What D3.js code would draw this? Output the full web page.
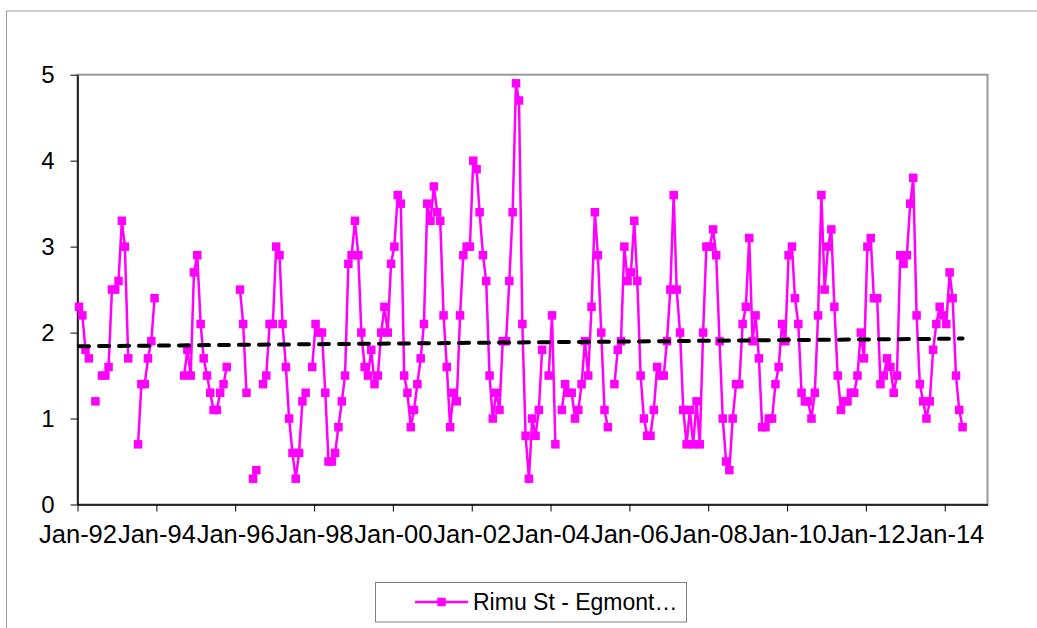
<!DOCTYPE html>
<html>
<head>
<meta charset="utf-8">
<script src="https://cdn.jsdelivr.net/npm/d3@7"></script>
<style>
body { margin: 0; background: #fff; }
svg { display: block; }
</style>
</head>
<body>
<div id="chart"></div>
<script>
var startYear = 1992;

// one reading per month from Jan-92, null where there was no sample
var values = [
    2.3, 2.2, 1.8, 1.7, null, 1.2, null, 1.5, 1.5, 1.6, 2.5, 2.5,
    2.6, 3.3, 3.0, 1.7, null, null, 0.7, 1.4, 1.4, 1.7, 1.9, 2.4,
    null, null, null, null, null, null, null, null, 1.5, 1.8, 1.5, 2.7,
    2.9, 2.1, 1.7, 1.5, 1.3, 1.1, 1.1, 1.3, 1.4, 1.6, null, null,
    null, 2.5, 2.1, 1.3, null, 0.3, 0.4, null, 1.4, 1.5, 2.1, 2.1,
    3.0, 2.9, 2.1, 1.6, 1.0, 0.6, 0.3, 0.6, 1.2, 1.3, null, 1.6,
    2.1, 2.0, 2.0, 1.3, 0.5, 0.5, 0.6, 0.9, 1.2, 1.5, 2.8, 2.9,
    3.3, 2.9, 2.0, 1.6, 1.5, 1.8, 1.4, 1.5, 2.0, 2.3, 2.0, 2.8,
    3.0, 3.6, 3.5, 1.5, 1.3, 0.9, 1.1, 1.4, 1.7, 2.1, 3.5, 3.3,
    3.7, 3.4, 3.3, 2.2, 1.6, 0.9, 1.3, 1.2, 2.2, 2.9, 3.0, 3.0,
    4.0, 3.9, 3.4, 2.9, 2.6, 1.5, 1.0, 1.3, 1.1, 1.9, 1.9, 2.6,
    3.4, 4.9, 4.7, 2.1, 0.8, 0.3, 1.0, 0.8, 1.1, 1.8, null, 1.5,
    2.2, 0.7, null, 1.1, 1.4, 1.3, 1.3, 1.0, 1.1, 1.4, 1.9, 1.5,
    2.3, 3.4, 2.9, 2.0, 1.1, 0.9, null, 1.4, 1.8, 1.9, 3.0, 2.6,
    2.7, 3.3, 2.6, 1.5, 1.0, 0.8, 0.8, 1.1, 1.6, 1.5, 1.5, 1.9,
    2.5, 3.6, 2.5, 2.0, 1.1, 0.7, 1.1, 0.7, 1.2, 0.7, 2.0, 3.0,
    3.0, 3.2, 2.9, 1.9, 1.0, 0.5, 0.4, 1.0, 1.4, 1.4, 2.1, 2.3,
    3.1, 1.9, 2.2, 1.7, 0.9, 0.9, 1.0, 1.0, 1.4, 1.6, 2.1, 1.9,
    2.9, 3.0, 2.4, 2.1, 1.3, 1.2, 1.2, 1.0, 1.3, 2.2, 3.6, 2.5,
    3.0, 3.2, 2.3, 1.5, 1.1, 1.2, 1.2, 1.3, 1.3, 1.5, 2.0, 1.7,
    3.0, 3.1, 2.4, 2.4, 1.4, 1.5, 1.7, 1.6, 1.3, 1.5, 2.9, 2.8,
    2.9, 3.5, 3.8, 2.2, 1.4, 1.2, 1.0, 1.2, 1.8, 2.1, 2.3, 2.2,
    2.1, 2.7, 2.4, 1.5, 1.1, 0.9
];

var seriesName = "Rimu St - Egmont…";
var yTicks = [0, 1, 2, 3, 4, 5];
var xTickLabels = ["Jan-92", "Jan-94", "Jan-96", "Jan-98", "Jan-00", "Jan-02",
                   "Jan-04", "Jan-06", "Jan-08", "Jan-10", "Jan-12", "Jan-14"];
var axisStart = "Jan-92",
    axisEnd = "Feb-15";

var width = 1037,
    height = 628,
    plot = {left: 77.5, right: 987.5, top: 74.7, bottom: 504.5};

var parse = d3.timeParse("%b-%y");

var data = values.map((v, i) => ({date: new Date(startYear, i, 15), value: v}));
var points = data.filter(d => d.value != null);

var x = d3.scaleTime()
    .domain([parse(axisStart), parse(axisEnd)])
    .range([plot.left, plot.right]);

var y = d3.scaleLinear()
    .domain([0, 5])
    .range([plot.bottom, plot.top]);

var svg = d3.select("#chart")
    .append("svg")
        .attr("width", width)
        .attr("height", height)
        .attr("font-family", "Arial, 'Liberation Sans', sans-serif");

// outer chart border
svg.append("rect")
    .attr("x", 6.5)
    .attr("y", 11)
    .attr("width", width + 10)
    .attr("height", height + 10)
    .attr("fill", "none")
    .attr("stroke", "#a0a0a0")
    .attr("stroke-width", 1);

// plot area border (top/right visible in gray)
svg.append("rect")
    .attr("x", plot.left)
    .attr("y", plot.top)
    .attr("width", plot.right - plot.left)
    .attr("height", plot.bottom - plot.top)
    .attr("fill", "none")
    .attr("stroke", "#999")
    .attr("stroke-width", 2);

var yAxis = svg.append("g")
    .attr("transform", `translate(${plot.left},0)`)
    .call(d3.axisLeft(y)
        .tickValues(yTicks)
        .tickFormat(d3.format("d"))
        .tickSize(7)
        .tickSizeOuter(0)
        .tickPadding(16));

var xAxis = svg.append("g")
    .attr("transform", `translate(0,${plot.bottom})`)
    .call(d3.axisBottom(x)
        .tickValues(xTickLabels.map(parse))
        .tickFormat(d3.timeFormat("%b-%y"))
        .tickSize(7)
        .tickSizeOuter(0)
        .tickPadding(13));

svg.selectAll(".domain")
    .attr("stroke", "#000")
    .attr("stroke-width", 1.5);
svg.selectAll(".tick line")
    .attr("stroke", "#000");
yAxis.selectAll("text")
    .attr("font-size", 24)
    .attr("fill", "#000");
xAxis.selectAll("text")
    .attr("font-size", 25.5)
    .attr("fill", "#000");

var line = d3.line()
    .defined(d => d.value != null)
    .x(d => x(d.date))
    .y(d => y(d.value));

svg.append("path")
    .datum(data)
    .attr("fill", "none")
    .attr("stroke", "#ff00ff")
    .attr("stroke-width", 2.5)
    .attr("d", line);

var ms = 8.5;
svg.append("g")
    .selectAll("rect")
    .data(points)
    .join("rect")
        .attr("x", d => x(d.date) - ms / 2)
        .attr("y", d => y(d.value) - ms / 2)
        .attr("width", ms)
        .attr("height", ms)
        .attr("fill", "#ff00ff");

// linear trend (least squares over the sampled months)
var n = points.length,
    mx = d3.mean(points, d => +d.date),
    my = d3.mean(points, d => d.value),
    sxy = d3.sum(points, d => (+d.date - mx) * (d.value - my)),
    sxx = d3.sum(points, d => (+d.date - mx) * (+d.date - mx)),
    slope = sxy / sxx;
var ends = [points[0].date, points[n - 1].date];

svg.append("path")
    .datum(ends)
    .attr("fill", "none")
    .attr("stroke", "#000")
    .attr("stroke-width", 4)
    .attr("stroke-linecap", "round")
    .attr("stroke-dasharray", "10,10")
    .attr("d", d3.line()
        .x(d => x(d))
        .y(d => y(my + slope * (+d - mx))));

// legend
var legend = svg.append("g");
legend.append("rect")
    .attr("x", 375.5)
    .attr("y", 582.5)
    .attr("width", 311)
    .attr("height", 39.5)
    .attr("fill", "#fff")
    .attr("stroke", "#808080")
    .attr("stroke-width", 1);
legend.append("line")
    .attr("x1", 415)
    .attr("x2", 468)
    .attr("y1", 602)
    .attr("y2", 602)
    .attr("stroke", "#ff00ff")
    .attr("stroke-width", 2.5);
legend.append("rect")
    .attr("x", 441.5 - ms / 2)
    .attr("y", 602 - ms / 2)
    .attr("width", ms)
    .attr("height", ms)
    .attr("fill", "#ff00ff");
legend.append("text")
    .attr("x", 473)
    .attr("y", 609.5)
    .attr("font-size", 23)
    .text(seriesName);
</script>
</body>
</html>
